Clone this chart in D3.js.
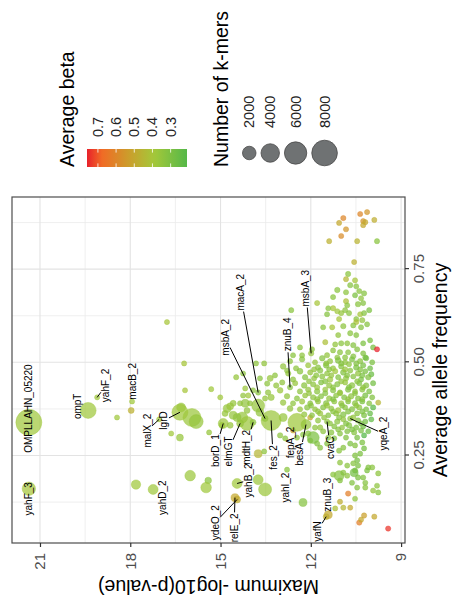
<!DOCTYPE html>
<html>
<head>
<meta charset="utf-8">
<script src="https://cdn.jsdelivr.net/npm/d3@7"></script>
<style>
  body { margin: 0; background: #fff; }
  text { font-family: "Liberation Sans", Arial, sans-serif; }
</style>
</head>
<body>
<div id="chart"></div>
<script>
var width  = 457;
var height = 606;

// rows are [allele frequency, max -log10(p), average beta, number of k-mers]
var upperTail = [
  [0.898,10.36,0.60,20],[0.903,10.13,0.55,30],[0.887,10.92,0.60,40],[0.874,11.06,0.50,20],[0.879,10.26,0.56,20],
  [0.876,10.19,0.50,30],[0.882,9.89,0.48,20],[0.868,10.26,0.50,20],[0.857,10.83,0.55,30],[0.839,10.99,0.58,20],
  [0.825,11.39,0.47,20],[0.825,10.46,0.46,20],[0.825,9.80,0.33,30],[0.769,10.56,0.47,20],[0.737,10.76,0.33,40],
  [0.723,10.83,0.45,20],[0.720,10.53,0.40,30],[0.707,10.69,0.32,40],[0.704,10.49,0.33,20],[0.694,11.12,0.33,60],
  [0.688,10.83,0.34,30],[0.691,10.39,0.33,20],[0.685,10.23,0.32,40],[0.680,10.53,0.30,20],[0.675,11.26,0.33,30],
  [0.672,10.33,0.34,20],[0.664,10.83,0.42,30],[0.653,10.79,0.33,20],[0.656,10.43,0.33,50],[0.659,10.26,0.32,20],
  [0.640,10.06,0.30,30],[0.645,11.26,0.40,40],[0.637,11.12,0.38,20],[0.632,10.99,0.36,30],[0.640,10.86,0.34,20],
  [0.632,10.73,0.33,40],[0.629,10.36,0.40,20],[0.632,10.23,0.32,30],[0.629,11.46,0.32,20],[0.616,11.06,0.40,30],
  [0.616,10.49,0.33,20],[0.613,10.29,0.35,40],[0.602,10.13,0.32,20],[0.608,10.49,0.42,30],[0.594,11.59,0.33,20],
  [0.594,11.29,0.40,30],[0.597,10.92,0.34,50],[0.599,10.59,0.33,20],[0.594,10.33,0.32,30],[0.573,11.09,0.35,20],
  [0.578,10.69,0.33,40],[0.573,10.49,0.32,20],[0.554,11.52,0.42,30],[0.548,11.19,0.35,20],[0.551,10.99,0.33,40],
  [0.551,10.79,0.34,20],[0.546,10.59,0.32,30],[0.551,10.26,0.30,20],[0.559,10.03,0.30,20],[0.540,9.93,0.29,30],
  [0.535,9.80,0.76,30],[0.532,11.26,0.34,20],[0.527,11.03,0.33,40],[0.527,10.76,0.33,20],[0.535,10.46,0.32,30],
  [0.524,10.26,0.31,20],[0.519,11.46,0.35,30],[0.513,11.12,0.34,20],[0.513,10.86,0.33,40],[0.516,10.59,0.32,20],
  [0.513,10.19,0.30,30],[0.640,12.65,0.33,20],[0.659,11.79,0.40,30],[0.645,11.42,0.33,20],[0.540,12.36,0.34,30],
  [0.519,12.29,0.34,20],[0.535,11.96,0.34,30],[0.519,12.59,0.33,20]
];

var midPoints = [
  [0.608,16.78,0.40,20],[0.497,16.21,0.40,20],[0.425,16.18,0.40,20],[0.428,15.31,0.38,20],[0.406,15.01,0.38,20],
  [0.460,14.48,0.36,30],[0.430,14.18,0.37,20],[0.411,14.08,0.38,40],[0.470,14.25,0.34,20],[0.497,13.82,0.34,20],
  [0.497,13.55,0.35,30],[0.390,14.35,0.35,40],[0.390,14.02,0.35,30],[0.425,13.92,0.34,20],[0.411,14.25,0.35,30],
  [0.457,13.69,0.33,20],[0.443,13.45,0.34,40],[0.465,13.19,0.34,20],[0.478,12.79,0.34,30],[0.446,12.95,0.35,40],
  [0.419,13.42,0.35,60],[0.403,13.52,0.36,30],
  [0.376,14.78,0.36,495],[0.382,14.68,0.37,305],[0.363,14.85,0.36,140],[0.358,14.58,0.36,495],[0.390,14.18,0.35,495],
  [0.352,14.28,0.36,1220],[0.371,14.12,0.35,140],[0.331,14.95,0.37,140],[0.331,14.68,0.36,140],[0.352,14.45,0.35,495],
  [0.390,14.58,0.36,140],[0.336,14.12,0.37,2170],[0.384,13.75,0.36,1830],[0.366,13.69,0.35,495],[0.352,12.92,0.36,495],
  [0.317,12.59,0.50,20],[0.352,12.02,0.50,20],[0.309,12.09,0.33,60],[0.325,11.86,0.34,40],[0.290,12.02,0.32,30],
  [0.282,11.79,0.31,40],[0.298,11.92,0.30,1510],[0.271,11.69,0.32,30],[0.282,11.46,0.31,20],[0.304,13.02,0.34,60],
  [0.296,12.85,0.33,30],[0.298,12.46,0.35,40],[0.306,12.26,0.33,20],
  [0.255,13.75,0.45,495],[0.261,13.55,0.34,20],[0.185,13.75,0.37,950],[0.159,13.52,0.37,1830],[0.124,12.26,0.32,495],
  [0.196,16.01,0.37,1110],[0.183,15.41,0.33,240],[0.164,15.48,0.38,1110],[0.172,17.81,0.38,805],[0.371,17.97,0.47,140],
  [0.352,18.44,0.38,20],[0.309,16.64,0.38,20],[0.298,16.35,0.36,305],[0.312,15.38,0.36,20],[0.352,15.95,0.37,3790],
  [0.341,15.81,0.36,2170],[0.379,16.31,0.36,710]
];

var blob = [
  [0.503,12.69,0.34,30],[0.508,12.29,0.33,60],[0.500,11.86,0.36,20],[0.511,11.62,0.32,90],[0.503,11.36,0.35,40],
  [0.505,11.09,0.31,120],[0.500,10.86,0.34,15],[0.508,10.63,0.30,50],[0.503,10.36,0.33,70],[0.511,10.16,0.28,30],
  [0.500,9.96,0.30,20],
  [0.489,12.92,0.35,80],[0.484,12.49,0.34,40],[0.492,12.09,0.37,20],[0.486,11.76,0.33,60],[0.492,11.49,0.31,100],
  [0.484,11.26,0.35,30],[0.489,10.99,0.32,50],[0.495,10.73,0.34,20],[0.486,10.49,0.30,80],[0.492,10.26,0.29,40],
  [0.484,10.03,0.27,20],
  [0.470,12.75,0.35,50],[0.476,12.36,0.33,120],[0.473,12.02,0.36,30],[0.478,11.69,0.32,70],[0.470,11.46,0.34,20],
  [0.476,11.19,0.38,40],[0.473,10.92,0.31,90],[0.478,10.69,0.33,30],[0.470,10.43,0.35,60],[0.476,10.19,0.30,20],
  [0.468,9.99,0.26,40],
  [0.457,13.35,0.36,150],[0.454,12.59,0.34,40],[0.460,12.19,0.32,70],[0.457,11.89,0.35,20],[0.462,11.62,0.33,50],
  [0.454,11.36,0.37,90],[0.460,11.09,0.31,30],[0.457,10.83,0.34,60],[0.462,10.59,0.32,20],[0.454,10.33,0.29,40],
  [0.460,10.09,0.31,80],
  [0.438,13.15,0.35,60],[0.444,12.52,0.36,30],[0.438,12.22,0.33,90],[0.441,11.92,0.34,40],[0.446,11.66,0.31,20],
  [0.438,11.39,0.35,70],[0.441,11.12,0.32,50],[0.446,10.86,0.36,30],[0.438,10.63,0.33,100],[0.444,10.39,0.30,20],
  [0.438,10.16,0.32,60],[0.444,9.93,0.28,30],
  [0.425,13.02,0.37,110],[0.422,12.36,0.34,50],[0.427,12.09,0.35,30],[0.422,11.79,0.33,80],[0.427,11.52,0.36,20],
  [0.425,11.26,0.32,60],[0.419,11.03,0.34,40],[0.427,10.76,0.31,90],[0.422,10.53,0.35,20],[0.427,10.29,0.33,50],
  [0.422,10.06,0.30,30],
  [0.406,13.32,0.36,200],[0.409,12.79,0.35,70],[0.403,12.46,0.33,40],[0.411,12.19,0.36,20],[0.406,11.92,0.34,60],
  [0.409,11.66,0.32,30],[0.403,11.39,0.35,80],[0.411,11.16,0.33,20],[0.406,10.89,0.31,50],[0.409,10.66,0.34,90],
  [0.403,10.43,0.32,30],[0.411,10.19,0.29,60],[0.406,9.96,0.31,20],
  [0.392,12.92,0.36,90],[0.390,12.59,0.34,30],[0.395,12.29,0.37,60],[0.390,12.02,0.33,20],[0.395,11.76,0.35,40],
  [0.390,11.49,0.32,80],[0.395,11.22,0.34,30],[0.390,10.99,0.36,50],[0.395,10.76,0.31,20],[0.390,10.53,0.33,70],
  [0.395,10.29,0.30,40],[0.390,10.06,0.32,20],
  [0.376,12.69,0.35,120],[0.374,12.36,0.36,40],[0.379,12.12,0.33,70],[0.374,11.86,0.35,20],[0.379,11.59,0.32,50],
  [0.376,11.32,0.34,30],[0.371,11.09,0.37,90],[0.379,10.86,0.33,20],[0.374,10.63,0.31,60],[0.379,10.39,0.34,40],
  [0.374,10.16,0.30,20],[0.379,9.93,0.22,50],
  [0.360,12.22,0.35,80],[0.358,11.96,0.33,30],[0.363,11.69,0.36,60],[0.358,11.42,0.32,20],[0.363,11.16,0.34,40],
  [0.360,10.92,0.31,90],[0.363,10.46,0.33,30],[0.358,10.23,0.30,50],[0.363,10.03,0.25,20],
  [0.344,11.76,0.34,40],[0.341,11.12,0.33,70],[0.347,10.92,0.35,20],[0.344,10.43,0.31,50],[0.341,10.19,0.28,30],
  [0.347,9.99,0.24,20],
  [0.325,11.69,0.35,60],[0.328,11.22,0.32,30],[0.325,10.96,0.34,20],[0.331,10.73,0.31,80],[0.325,10.49,0.30,40],
  [0.328,10.26,0.27,20],
  [0.315,11.59,0.34,30],[0.312,11.32,0.33,60],[0.315,10.79,0.31,20],[0.312,10.56,0.32,40],[0.317,10.33,0.29,30],
  [0.315,10.09,0.26,20],[0.298,11.42,0.33,40],[0.296,11.22,0.32,20],
  [0.497,11.49,0.34,20],[0.497,10.99,0.32,40],[0.497,10.49,0.31,30],
  [0.481,11.89,0.35,30],[0.481,11.39,0.33,20],[0.481,10.86,0.36,50],[0.481,10.36,0.31,20],
  [0.465,11.82,0.33,40],[0.465,11.32,0.35,30],[0.465,10.79,0.32,20],[0.465,10.29,0.30,60],
  [0.449,12.06,0.34,20],[0.449,11.52,0.32,50],[0.449,10.99,0.35,30],[0.449,10.46,0.33,20],
  [0.433,11.79,0.36,40],[0.433,11.26,0.33,20],[0.433,10.73,0.31,60],[0.433,10.26,0.34,30],
  [0.417,12.06,0.35,20],[0.417,11.52,0.32,40],[0.417,11.03,0.36,30],[0.417,10.53,0.33,20],
  [0.401,11.79,0.34,50],[0.401,11.26,0.31,20],[0.401,10.76,0.35,30],[0.401,10.29,0.32,40],
  [0.384,11.99,0.33,20],[0.384,11.46,0.36,60],[0.384,10.96,0.32,30],[0.384,10.49,0.34,20],
  [0.368,11.76,0.35,40],[0.368,11.26,0.33,20],[0.368,10.76,0.31,50],[0.368,10.29,0.30,30],
  [0.352,11.56,0.34,20],[0.352,11.06,0.32,40],[0.352,10.59,0.35,30],
  [0.336,11.36,0.33,20],[0.336,10.83,0.31,50],[0.336,10.33,0.29,20],
  [0.320,11.09,0.32,30],[0.320,10.63,0.30,20],[0.392,9.76,0.45,20]
];

var lowerTail = [
  [0.309,11.03,0.32,30],[0.298,10.83,0.31,20],[0.282,10.69,0.30,40],[0.277,10.53,0.32,20],[0.298,10.46,0.29,30],
  [0.304,10.23,0.21,20],[0.285,10.29,0.30,30],[0.269,10.23,0.28,20],[0.250,10.53,0.31,40],[0.255,10.36,0.30,20],
  [0.237,10.46,0.29,30],[0.229,10.59,0.32,20],[0.231,11.03,0.34,30],[0.223,10.79,0.33,20],[0.223,10.43,0.30,40],
  [0.218,10.09,0.31,20],[0.218,9.96,0.33,30],[0.210,10.53,0.30,20],[0.204,10.92,0.33,30],[0.196,11.06,0.32,950],
  [0.196,10.79,0.34,20],[0.204,10.56,0.28,495],[0.191,10.26,0.31,30],[0.177,10.19,0.32,20],[0.164,10.19,0.33,30],
  [0.156,9.93,0.36,20],[0.151,9.76,0.33,30],[0.164,10.46,0.32,20],[0.148,10.76,0.62,40],[0.134,10.53,0.34,20],
  [0.126,11.03,0.48,30],[0.108,11.19,0.42,20],[0.110,10.92,0.45,30],[0.110,10.69,0.50,20],[0.089,10.23,0.52,40],
  [0.086,9.89,0.50,30],[0.070,10.39,0.62,40],[0.054,9.43,0.74,30],[0.078,10.33,0.50,20],[0.169,9.80,0.34,20],
  [0.199,11.26,0.33,30],[0.183,11.03,0.32,20],[0.191,10.43,0.30,40],[0.177,10.63,0.31,20],[0.263,11.06,0.33,30],
  [0.271,10.92,0.32,20],[0.202,9.76,0.34,30],[0.210,10.13,0.30,20]
];

// named genes: [gene, freq, p, beta, kmers]
var labelled = [
  ["OMPLLAHN_05220",0.339,21.37,0.38,8260],["yahF_3",0.161,21.37,0.40,1960],["ompT",0.371,19.40,0.38,2930],
  ["yahF_2",0.406,19.10,0.38,20],["macB_2",0.395,17.94,0.38,20],["malX_2",0.347,17.04,0.38,20],
  ["lgrD",0.366,16.35,0.38,2930],["yahD_2",0.159,17.24,0.38,950],["ydeO_2",0.132,14.45,0.48,305],
  ["relE_2",0.137,14.52,0.50,495],["yahB_2",0.175,14.45,0.38,950],["borD_1",0.336,14.91,0.37,950],
  ["elmGT",0.336,14.35,0.36,305],["mdtH_2",0.339,13.92,0.34,140],["fes_2",0.344,13.32,0.37,4760],
  ["yahI_2",0.212,12.79,0.33,20],["fepA_2",0.339,12.46,0.38,3790],["besA",0.333,12.16,0.36,950],
  ["cvaC",0.341,11.46,0.34,40],["yqeA_2",0.349,10.69,0.34,40],["znuB_3",0.091,11.42,0.50,495],
  ["yafN",0.086,11.49,0.48,140],["msbA_2",0.349,13.52,0.35,140],["macA_2",0.419,13.75,0.33,40],
  ["znuB_4",0.433,12.69,0.32,40],["msbA_3",0.524,11.99,0.36,60]
];

// where the repelled labels sit: [gene, freq, p]
var labelSpots = [
  ["OMPLLAHN_05220",0.376,21.37],["yahF_3",0.134,21.37],["ompT",0.382,19.74],["yahF_2",0.438,18.81],
  ["macB_2",0.449,17.91],["malX_2",0.317,17.44],["lgrD",0.344,16.88],["yahD_2",0.137,16.94],
  ["ydeO_2",0.070,15.18],["relE_2",0.056,14.55],["yahB_2",0.183,14.08],["borD_1",0.263,15.18],
  ["elmGT",0.261,14.75],["mdtH_2",0.272,14.15],["fes_2",0.245,13.25],["yahI_2",0.164,12.85],
  ["fepA_2",0.285,12.69],["besA",0.253,12.36],["cvaC",0.271,11.36],["yqeA_2",0.309,9.60],
  ["znuB_3",0.145,11.46],["yafN",0.046,11.79],["msbA_2",0.567,14.85],["macA_2",0.688,14.35],
  ["znuB_4",0.575,12.79],["msbA_3",0.699,12.17]
];

var freqTicks  = [0.25, 0.50, 0.75];
var freqMinor  = [0.125, 0.375, 0.625, 0.875];
var pTicks     = [9, 12, 15, 18, 21];
var pMinor     = [10.5, 13.5, 16.5, 19.5];
var betaTicks  = [0.3, 0.4, 0.5, 0.6, 0.7];
var kmerBreaks = [2000, 4000, 6000, 8000];

var points = [].concat(upperTail, midPoints, blob, lowerTail,
  labelled.map(function(d) { return d.slice(1); }));

var svg = d3.select("#chart")
    .append("svg")
    .attr("width", width)
    .attr("height", height);

svg.append("rect").attr("width", width).attr("height", height).attr("fill", "#fff");

// the whole figure is turned a quarter turn anticlockwise
var g = svg.append("g").attr("transform", "translate(0," + height + ") rotate(-90)");

var panel = {left: 63, right: 409, top: 12, bottom: 405};

var x = d3.scaleLinear().domain([0.0153, 0.9435]).range([panel.left, panel.right]);
var y = d3.scaleLinear().domain([8.87, 21.93]).range([panel.bottom, panel.top]);

var betaExt = d3.extent(points, function(d) { return d[2]; });
var stopT = [0, 0.33, 0.56, 0.855, 1];
var color = d3.scaleLinear()
    .domain(stopT.map(function(t) { return betaExt[0] + t * (betaExt[1] - betaExt[0]); }))
    .range(["#55b848", "#a4c83a", "#c9a12c", "#f16a25", "#e8212b"]);

var size = d3.scaleRadial().domain([0, 8000]).range([2.5, 12.8]);

// grid
var grid = g.append("g");
grid.selectAll(".xmin").data(freqMinor).enter().append("line")
    .attr("x1", x).attr("x2", x).attr("y1", panel.top).attr("y2", panel.bottom)
    .attr("stroke", "#ebebeb").attr("stroke-width", 0.8);
grid.selectAll(".ymin").data(pMinor).enter().append("line")
    .attr("y1", y).attr("y2", y).attr("x1", panel.left).attr("x2", panel.right)
    .attr("stroke", "#ebebeb").attr("stroke-width", 0.8);
grid.selectAll(".xmaj").data(freqTicks).enter().append("line")
    .attr("x1", x).attr("x2", x).attr("y1", panel.top).attr("y2", panel.bottom)
    .attr("stroke", "#e3e3e3").attr("stroke-width", 1.1);
grid.selectAll(".ymaj").data(pTicks).enter().append("line")
    .attr("y1", y).attr("y2", y).attr("x1", panel.left).attr("x2", panel.right)
    .attr("stroke", "#e3e3e3").attr("stroke-width", 1.1);

// points
g.append("g").selectAll("circle")
    .data(points)
    .enter()
    .append("circle")
    .attr("cx", function(d) { return x(d[0]); })
    .attr("cy", function(d) { return y(d[1]); })
    .attr("r", function(d) { return size(d[3]); })
    .attr("fill", function(d) { return color(d[2]); })
    .attr("fill-opacity", 0.72)
    .attr("stroke", function(d) { return color(d[2]); })
    .attr("stroke-opacity", 0.65)
    .attr("stroke-width", 0.6);

// repelled labels with leader segments
var segs = g.append("g");
var labs = g.append("g");
labelSpots.forEach(function(s) {
  var pt = labelled.find(function(d) { return d[0] === s[0]; });
  var cu = x(s[1]), cv = y(s[2]);
  var t = labs.append("text")
      .attr("x", cu).attr("y", cv)
      .attr("text-anchor", "middle")
      .attr("dominant-baseline", "central")
      .attr("font-size", 10)
      .attr("fill", "#000")
      .text(s[0]);
  var w = t.node().getComputedTextLength() + 2, h = 10;
  var pu = x(pt[1]), pv = y(pt[2]);
  var du = pu - cu, dv = pv - cv;
  if (Math.abs(du) <= w / 2 && Math.abs(dv) <= h / 2) return;
  var k = Math.min(du !== 0 ? (w / 2) / Math.abs(du) : Infinity,
                   dv !== 0 ? (h / 2) / Math.abs(dv) : Infinity);
  var eu = cu + du * k, ev = cv + dv * k;
  if (Math.hypot(pu - eu, pv - ev) < 6) return;
  segs.append("line")
      .attr("x1", eu).attr("y1", ev).attr("x2", pu).attr("y2", pv)
      .attr("stroke", "#000").attr("stroke-width", 1);
});

// panel border
g.append("rect")
    .attr("x", panel.left).attr("y", panel.top)
    .attr("width", panel.right - panel.left).attr("height", panel.bottom - panel.top)
    .attr("fill", "none").attr("stroke", "#4d4d4d").attr("stroke-width", 1.2);

// axes
var xAxis = g.append("g")
    .attr("transform", "translate(0," + panel.bottom + ")")
    .call(d3.axisBottom(x).tickValues(freqTicks).tickFormat(d3.format(".2f")).tickSize(4).tickPadding(4));
var yAxis = g.append("g")
    .attr("transform", "translate(" + panel.left + ",0)")
    .call(d3.axisLeft(y).tickValues(pTicks).tickFormat(d3.format("d")).tickSize(4).tickPadding(6));
[xAxis, yAxis].forEach(function(a) {
  a.select(".domain").remove();
  a.selectAll("line").attr("stroke", "#333").attr("stroke-width", 1.2);
  a.selectAll("text").attr("fill", "#4d4d4d").attr("font-size", 15)
      .style("font-family", "'Liberation Sans', Arial, sans-serif");
});

g.append("text")
    .attr("x", (panel.left + panel.right) / 2).attr("y", 447)
    .attr("text-anchor", "middle").attr("font-size", 19.5)
    .text("Average allele frequency");
g.append("text")
    .attr("transform", "translate(26," + (panel.top + panel.bottom) / 2 + ") rotate(-90)")
    .attr("text-anchor", "middle").attr("font-size", 19.5)
    .text("Maximum -log10(p-value)");

// colour legend
g.append("text").attr("x", 439).attr("y", 74).attr("font-size", 19.5).text("Average beta");

var cb = d3.scaleLinear().domain([betaExt[1], betaExt[0]]).range([87, 187]);
var grad = svg.append("defs").append("linearGradient")
    .attr("id", "betaGrad").attr("x1", 0).attr("y1", 0).attr("x2", 0).attr("y2", 1);
d3.range(0, 21).forEach(function(i) {
  var v = betaExt[1] - (i / 20) * (betaExt[1] - betaExt[0]);
  grad.append("stop").attr("offset", (i / 20 * 100) + "%").attr("stop-color", color(v));
});
g.append("rect").attr("x", 439).attr("y", 87).attr("width", 18).attr("height", 100)
    .attr("fill", "url(#betaGrad)");
betaTicks.forEach(function(t) {
  g.append("line").attr("x1", 439).attr("x2", 442.6).attr("y1", cb(t)).attr("y2", cb(t))
      .attr("stroke", "#fff").attr("stroke-width", 0.8);
  g.append("line").attr("x1", 453.4).attr("x2", 457).attr("y1", cb(t)).attr("y2", cb(t))
      .attr("stroke", "#fff").attr("stroke-width", 0.8);
  g.append("text").attr("x", 469).attr("y", cb(t))
      .attr("dominant-baseline", "central").attr("font-size", 14.5).attr("fill", "#222")
      .text(d3.format(".1f")(t));
});

// size legend
g.append("text").attr("x", 439).attr("y", 228).attr("font-size", 19.5).text("Number of k-mers");
var v0 = 240;
kmerBreaks.forEach(function(b) {
  var r = size(b), hgt = 2 * r + 5, c = v0 + hgt / 2;
  g.append("circle").attr("cx", 453).attr("cy", c).attr("r", r)
      .attr("fill", "#6f7273").attr("stroke", "#4a4a4a").attr("stroke-width", 0.8);
  g.append("text").attr("x", 478).attr("y", c)
      .attr("dominant-baseline", "central").attr("font-size", 14.5).attr("fill", "#222")
      .text(b);
  v0 += hgt;
});
</script>
</body>
</html>
